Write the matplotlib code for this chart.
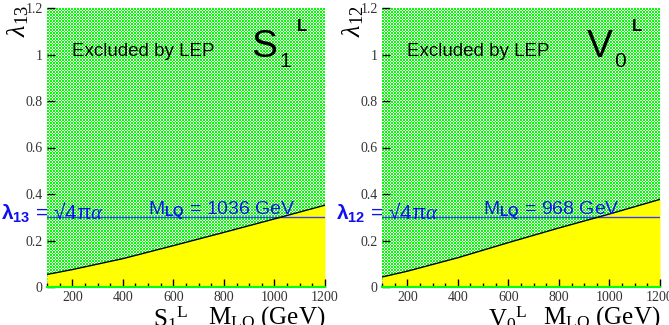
import numpy as np
import matplotlib.pyplot as plt

# boundary curves
mass = [100, 200, 400, 600, 800, 1000, 1200]
lam13_S1 = [0.054, 0.075, 0.122, 0.178, 0.235, 0.293, 0.352]
lam12_V0 = [0.043, 0.068, 0.126, 0.191, 0.254, 0.314, 0.377]

LAM_EM = 0.303  # sqrt(4 pi alpha)
panels = [
    dict(curve=lam13_S1, idx="13", name="S", sub="1", mlq="1036"),
    dict(curve=lam12_V0, idx="12", name="V", sub="0", mlq="968"),
]

GREEN = np.array([0.0, 1.0, 0.0])
WHITE = np.array([1.0, 1.0, 1.0])
SERIF = "Liberation Serif"
SANS = "Liberation Sans"

W, H = 669, 325
AX_W, AX_H, AX_B = 278, 279, 38   # axes size in pixels
AX_LEFTS = [47, 382]


def checker(nx, ny):
    # checkerboard with ~1.5 px cells (period 3 px)
    par = np.array([0, 0, 1])
    ii, jj = np.meshgrid(par[np.arange(nx) % 3], par[np.arange(ny) % 3])
    mask = ((ii ^ jj) == 0)[..., None]
    return np.where(mask, GREEN, WHITE)


def draw_panel(ax, p):
    ax.set_xlim(100, 1200)
    ax.set_ylim(0, 1.2)
    ax.imshow(checker(AX_W, AX_H), extent=(100, 1200, 0, 1.2), aspect="auto",
              interpolation="nearest", zorder=0)
    ax.fill_between(mass, 0, p["curve"], color="#ffff00", lw=0, zorder=1)
    ax.plot(mass, p["curve"], color="black", lw=1.0, zorder=3)
    ax.axhline(LAM_EM, color="#3a3aff", lw=1.0, zorder=2)

    for s in ["top", "right", "left"]:
        ax.spines[s].set_visible(False)
    ax.spines["bottom"].set_color("#00ff00")
    ax.spines["bottom"].set_linewidth(1.5)

    ax.set_yticks([0, 0.2, 0.4, 0.6, 0.8, 1, 1.2])
    ax.set_yticklabels(["0", "0.2", "0.4", "0.6", "0.8", "1", "1.2"])
    ax.set_xticks([200, 400, 600, 800, 1000, 1200])
    ax.set_xticks(np.arange(100, 1201, 50), minor=True)
    ax.tick_params(direction="in", length=6, width=1, color="black",
                   labelsize=10, pad=3)
    ax.tick_params(which="minor", direction="in", length=3, width=1)
    for lab in ax.get_xticklabels() + ax.get_yticklabels():
        lab.set_fontfamily(SERIF)
        lab.set_color("#333333")

    ax.text(-0.15, 1.01, r"$\lambda_{%s}$" % p["idx"], transform=ax.transAxes,
            rotation=90, ha="left", va="top", fontsize=19,
            fontfamily=SERIF, zorder=5)
    ax.text(1.0, -0.06, r"M$_{\rm LQ}$ (GeV)", transform=ax.transAxes,
            ha="right", va="top", fontsize=18, fontfamily=SERIF)
    ax.text(0.38, -0.06, r"%s$_{%s}$$^{\rm L}$" % (p["name"], p["sub"]),
            transform=ax.transAxes, ha="left", va="top", fontsize=18,
            fontfamily=SERIF)

    ax.text(0.09, 0.845, "Excluded by LEP", transform=ax.transAxes,
            fontsize=13.5, fontfamily=SANS, va="center", zorder=5)
    ax.text(0.735, 0.86, p["name"], transform=ax.transAxes, fontsize=28,
            fontfamily=SANS, va="center", zorder=5)
    ax.text(0.835, 0.81, p["sub"], transform=ax.transAxes, fontsize=15,
            fontfamily=SANS, va="center", zorder=5)
    ax.text(0.9, 0.935, "L", transform=ax.transAxes, fontsize=12,
            fontweight="bold", fontfamily=SANS, va="center", zorder=5)

    ax.text(-0.167, LAM_EM - 0.015,
            r"$\mathbf{\lambda_{%s}}$ = √4π$\alpha$" % p["idx"],
            transform=ax.get_yaxis_transform(), color="#1010ee", fontsize=15,
            fontfamily=SANS, va="baseline", zorder=5, clip_on=False)
    ax.text(500, LAM_EM + 0.01, r"M$_{\bf LQ}$ = %s GeV" % p["mlq"],
            color="#1010ee", fontsize=14, fontfamily=SANS, va="baseline",
            zorder=5)


plt.rcParams["mathtext.fontset"] = "custom"
plt.rcParams["mathtext.rm"] = SERIF
plt.rcParams["mathtext.it"] = SERIF + ":italic"
plt.rcParams["mathtext.bf"] = SANS + ":bold"

fig = plt.figure(figsize=(W / 100, H / 100), dpi=100)
for left, p in zip(AX_LEFTS, panels):
    ax = fig.add_axes([left / W, AX_B / H, AX_W / W, AX_H / H])
    draw_panel(ax, p)

fig.savefig("out.png", dpi=100)
